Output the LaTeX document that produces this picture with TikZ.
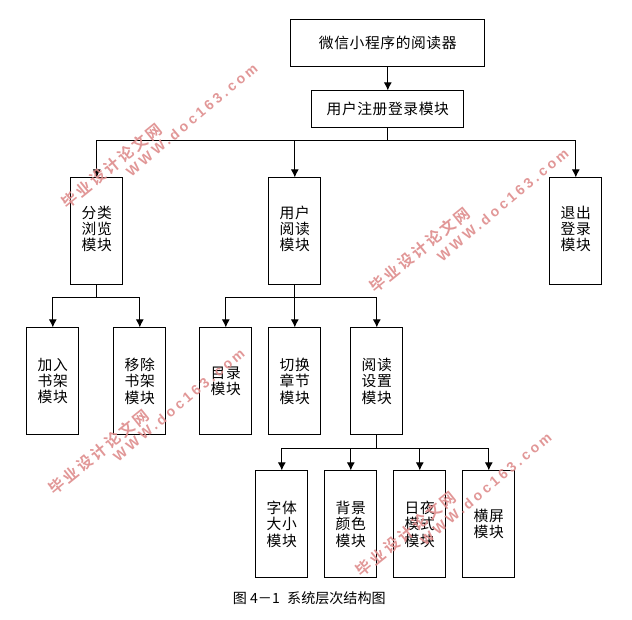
\documentclass[tikz,border=0pt]{standalone}
\usepackage{fontspec}
\setmainfont[LetterSpace=4]{Noto Sans CJK SC}
\newfontfamily\capfont{Noto Sans CJK SC}
\newfontfamily\wmcjk[LetterSpace=17]{Noto Sans CJK SC Bold}
\newfontfamily\wmlatin[LetterSpace=23]{Liberation Sans}
\usetikzlibrary{shapes,arrows,arrows.meta,positioning}
\definecolor{wmcolor}{RGB}{222,140,140}
\tikzstyle{tnode} = [rectangle, draw, line width=0.6pt, minimum width=1.3cm, minimum height=2.675cm, align=center, inner sep=0pt, font=\fontsize{10.5}{11.5}\selectfont]
\tikzstyle{uplabel} = [align=center, yshift=1.5pt, font=\fontsize{10.5}{11.5}\selectfont]
\tikzstyle{wnode} = [rectangle, draw, line width=0.6pt, align=center, font=\fontsize{10.5}{12}\selectfont]
\tikzstyle{line} = [draw, line width=0.7pt]
\tikzstyle{arrow} = [draw, line width=0.7pt, -{Latex[length=2mm,width=2mm]}]
\tikzstyle{wmcn} = [rotate=39, text=wmcolor, opacity=0.9, font=\wmcjk\fontsize{11}{12}\selectfont]
\tikzstyle{wmen} = [rotate=40, text=wmcolor, opacity=0.9, font=\wmlatin\bfseries\fontsize{10}{12}\selectfont]
\begin{document}
\begin{tikzpicture}[x=0.025cm, y=-0.025cm]
	\useasboundingbox (0.2,0.2) rectangle (632.2,619.2);
	\node [wnode, minimum width=4.85cm, minimum height=1.175cm] (reader) at (388,43.5) {微信小程序的阅读器};
	\node [wnode, minimum width=3.8cm, minimum height=0.925cm] (login) at (388,109.5) {用户注册登录模块};

	\node [tnode, label={[uplabel]center:分类\\浏览\\模块}] (browse) at (97,231.5) {};
	\node [tnode, label={[uplabel]center:用户\\阅读\\模块}] (read) at (295,231.5) {};
	\node [tnode, label={[uplabel]center:退出\\登录\\模块}] (logout) at (576,231.5) {};

	\node [tnode] (add) at (53,381.5) {加入\\书架\\模块};
	\node [tnode] (remove) at (140,381.5) {移除\\书架\\模块};
	\node [tnode] (toc) at (226,381.5) {目录\\模块};
	\node [tnode] (chapter) at (295,381.5) {切换\\章节\\模块};
	\node [tnode] (setting) at (377,381.5) {阅读\\设置\\模块};

	\node [tnode] (fontsize) at (282,524.5) {字体\\大小\\模块};
	\node [tnode] (bgcolor) at (351,524.5) {背景\\颜色\\模块};
	\node [tnode] (daynight) at (420,524.5) {日夜\\模式\\模块};
	\node [tnode] (landscape) at (489,524.5) {横屏\\模块};

	\node [font=\capfont\fontsize{10}{12}\selectfont] (caption) at (309.5,598) {图 4－1\hspace{3pt} 系统层次结构图};

	\coordinate (busa) at (388,141);
	\coordinate (busb) at (97,298);
	\coordinate (busc) at (295,298);
	\coordinate (busd) at (377,449);

	\path [arrow] (reader) -- (login);
	\path [line] (login) -- (busa);
	\path [arrow] (busa) -| (browse);
	\path [arrow] (busa) -| (read);
	\path [arrow] (busa) -| (logout);

	\path [line] (browse) -- (busb);
	\path [arrow] (busb) -| (add);
	\path [arrow] (busb) -| (remove);

	\path [line] (read) -- (busc);
	\path [arrow] (busc) -| (toc);
	\path [arrow] (busc) -- (chapter);
	\path [arrow] (busc) -| (setting);

	\path [line] (setting) -- (busd);
	\path [arrow] (busd) -| (fontsize);
	\path [arrow] (busd) -| (bgcolor);
	\path [arrow] (busd) -| (daynight);
	\path [arrow] (busd) -| (landscape);

	\node [wmcn] (wmcna) at (112,166) {毕业设计论文网};
	\node [wmen] (wmena) at (192,120) {WWW.doc163.com};
	\node [wmcn] (wmcnb) at (99,452) {毕业设计论文网};
	\node [wmen] (wmenb) at (179,405) {WWW.doc163.com};
	\node [wmcn] (wmcnc) at (420,250) {毕业设计论文网};
	\node [wmen] (wmenc) at (503,205) {WWW.doc163.com};
	\node [wmcn] (wmcnd) at (406,534) {毕业设计论文网};
	\node [wmen] (wmend) at (486,489) {WWW.doc163.com};
\end{tikzpicture}
\end{document}
